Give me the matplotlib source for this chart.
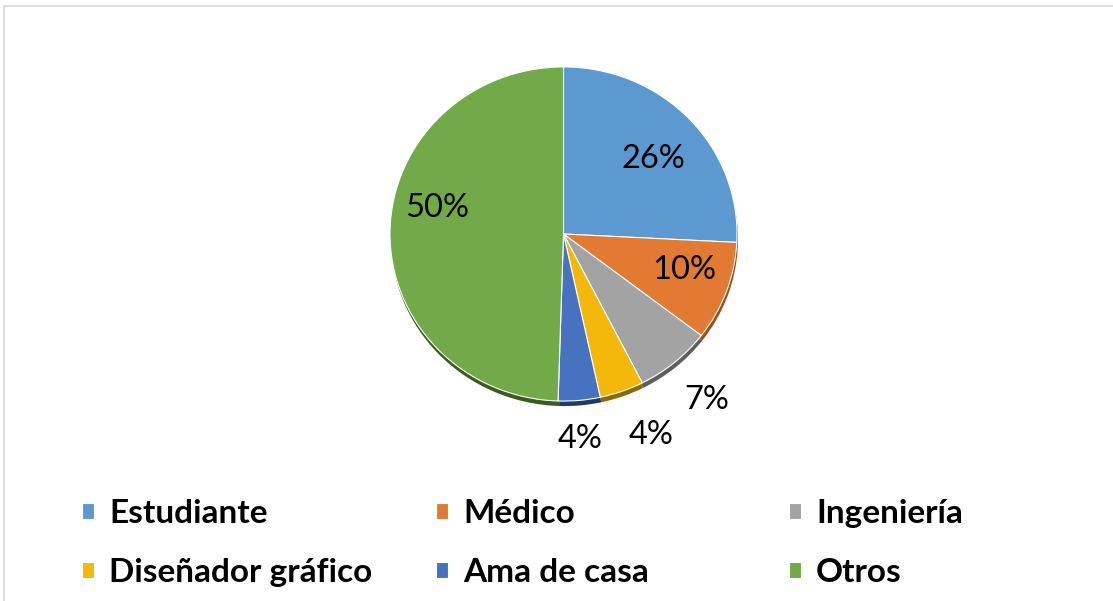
import matplotlib
matplotlib.use("Agg")
import matplotlib.pyplot as plt
import numpy as np
from matplotlib.lines import Line2D

# ---- data ----
categories = ["Estudiante", "Médico", "Ingeniería", "Diseñador gráfico", "Ama de casa", "Otros"]
shares = [25.8, 9.6, 7.1, 4.1, 3.9, 49.5]
pct_labels = ["26%", "10%", "7%", "4%", "4%", "50%"]

# ---- style ----
colors = ["#5B99D0", "#E27A33", "#A3A3A3", "#F3B80A", "#4672BF", "#72AA4A"]
shadow_colors = ["#3C6A96", "#9A5220", "#5E5E5E", "#8C6A05", "#23395F", "#3A5C24"]
label_rfac = [0.684, 0.728, 1.294, 1.304, 1.23, 0.746]
label_dang = [-2.7, 2.8, 0.0, 3.1, -0.8, -11.2]

W, H = 1113, 601
YS = 0.963  # vertical squash of the pie
fig = plt.figure(figsize=(W / 100, H / 100), dpi=100)
ax = fig.add_axes([0, 0, 1, 1])

cx, cy_pix = 563.5, 234.0
R = 173.5
cy = (H - cy_pix) / YS

# shadow / rim
ax.pie(shares, colors=shadow_colors, startangle=90, counterclock=False,
       radius=R, center=(cx + 1, cy - 5 / YS), frame=True,
       wedgeprops=dict(linewidth=0))
wedges, _ = ax.pie(shares, colors=colors, startangle=90, counterclock=False,
                   radius=R, center=(cx, cy), frame=True,
                   wedgeprops=dict(edgecolor="white", linewidth=0.8))

ax.set_aspect("auto")
ax.set_xlim(0, W)
ax.set_ylim(0, H / YS)
ax.axis("off")

for w, lab, rf, da in zip(wedges, pct_labels, label_rfac, label_dang):
    ang = np.deg2rad((w.theta1 + w.theta2) / 2 + da)
    x = cx + R * rf * np.cos(ang)
    y = cy + R * rf * np.sin(ang)
    ax.text(x, y, lab, ha="center", va="center", fontsize=23.5,
            family="Lato", color="black")

# legends: three columns of two rows
col_x = [82, 436, 789]
for i in range(3):
    hs = [wedges[i], wedges[i + 3]]
    ls = [categories[i], categories[i + 3]]
    fig.legend(hs, ls, loc="upper left",
               bbox_to_anchor=(col_x[i] / W, 1 - 499 / H),
               frameon=False, borderpad=0, borderaxespad=0,
               handlelength=0.36, handleheight=0.36, handletextpad=0.45,
               labelspacing=0.9,
               prop=dict(family="Lato", weight="bold", size=24))

# outer light frame (left and top edges)
fig.add_artist(Line2D([3.5 / W, 3.5 / W], [0, 1 - 5.5 / H], color="#D9D9D9", lw=1.2))
fig.add_artist(Line2D([3.5 / W, 1], [1 - 5.5 / H, 1 - 5.5 / H], color="#D9D9D9", lw=1.2))

fig.savefig("out.png", dpi=100)
